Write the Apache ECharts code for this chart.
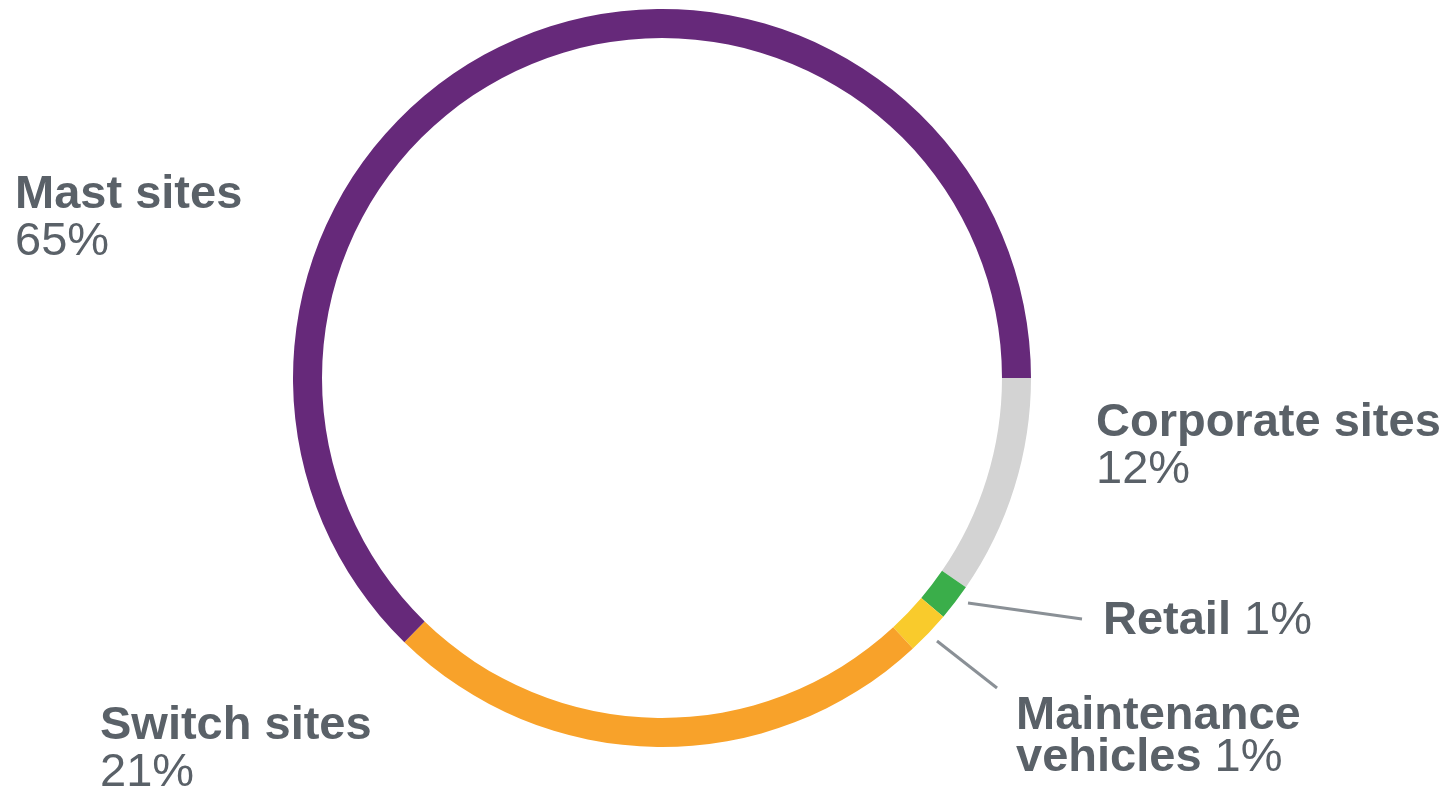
<!DOCTYPE html>
<html>
<head>
<meta charset="utf-8">
<script src="https://cdn.jsdelivr.net/npm/echarts@6/dist/echarts.min.js"></script>
<style>
html,body{margin:0;padding:0;background:#fff;}
#c{width:1448px;height:789px;}
</style>
</head>
<body>
<div id="c"></div>
<script>
// Segments in clockwise order starting at 3 o'clock
var categories = ['Corporate sites', 'Retail', 'Maintenance vehicles', 'Switch sites', 'Mast sites'];
// arc sizes as measured from the ring
var arcValues = [9.6, 1.6, 1.9, 24.2, 62.7];
// percentages printed in the labels
var labelPercents = [12, 1, 1, 21, 65];
var colors = ['#d3d3d3', '#3aae4a', '#f9cb2c', '#f8a22a', '#66297a'];

var textColor = '#5a6168';
var FONT = '"Liberation Sans", Arial, Helvetica, sans-serif';
var NBSP = '\u00a0';

// label layout (positions only)
var labelPos = [
  {x: 1096, y: 400, line: null},
  {x: 1103, y: 598, line: [[968, 603], [1082, 619]]},
  {x: 1016, y: 695, line: [[937, 641], [997, 688]]},
  {x: 100, y: 703, line: null},
  {x: 15, y: 172, line: null}
];

function labelText(i) {
  var name = categories[i], p = labelPercents[i] + '%';
  if (i === 1) return '{b|' + name + NBSP + '}{p|' + p + '}';
  if (i === 2) return '{b2|Maintenance}\n{b2|vehicles' + NBSP + '}{p2|' + p + '}';
  return '{b|' + name + '}\n{p|' + p + '}';
}

var data = categories.map(function (c, i) {
  return {
    name: c,
    value: arcValues[i],
    itemStyle: {color: colors[i]},
    labelLine: {show: !!labelPos[i].line}
  };
});

var chart = echarts.init(document.getElementById('c'), null, {renderer: 'canvas'});
chart.setOption({
  animation: false,
  series: [{
    type: 'pie',
    center: [662, 378],
    radius: [340, 369],
    startAngle: 0,
    clockwise: true,
    avoidLabelOverlap: false,
    silent: true,
    data: data,
    label: {
      show: true,
      position: 'outside',
      formatter: function (p) { return labelText(p.dataIndex); },
      color: textColor,
      fontFamily: FONT,
      rich: {
        b: {fontSize: 47, fontWeight: 'bold', color: textColor, fontFamily: FONT, lineHeight: 47},
        p: {fontSize: 47, fontWeight: 'normal', color: textColor, fontFamily: FONT, lineHeight: 47},
        b2: {fontSize: 47, fontWeight: 'bold', color: textColor, fontFamily: FONT, lineHeight: 42},
        p2: {fontSize: 47, fontWeight: 'normal', color: textColor, fontFamily: FONT, lineHeight: 42}
      }
    },
    labelLine: {
      show: true,
      lineStyle: {color: '#8a9096', width: 3}
    },
    labelLayout: function (params) {
      var lp = labelPos[params.dataIndex];
      var r = {x: lp.x, y: lp.y, align: 'left', verticalAlign: 'top'};
      if (lp.line) r.labelLinePoints = lp.line;
      return r;
    }
  }]
});
</script>
</body>
</html>
